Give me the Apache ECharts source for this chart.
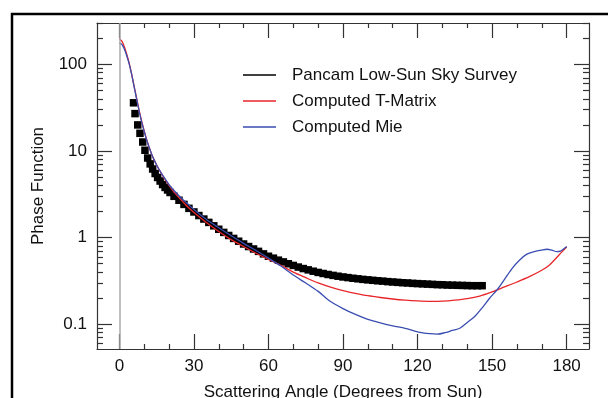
<!DOCTYPE html>
<html><head><meta charset="utf-8">
<script src="https://cdn.jsdelivr.net/npm/echarts@6/dist/echarts.min.js"></script>
<style>html,body{margin:0;padding:0;background:#fff}#c{width:608px;height:398px}</style>
</head><body><div id="c"></div>
<script>
// ---- data ----
const seriesNames = ['Pancam Low-Sun Sky Survey', 'Computed T-Matrix', 'Computed Mie'];

const pancamX = [5.7,6.3,7.4,8.3,9.4,10.3,11.4,12.4,13.4,14.4,15.4,16.4,17.4,18.4,19.4,20.4,22,24,26,28,30,32,34,36,38,40,42,44,46,48,50,52,54,56,58,60,62,64,66,68,70,72,74,76,78,80,82,84,86,88,90,92,94,96,98,100,102,104,106,108,110,112,114,116,118,120,122,124,126,128,130,132,134,136,138,140,142,144,146];
const pancamY = [36,27,20,16,12.7,10.2,8.3,7.1,6.2,5.5,4.95,4.5,4.1,3.8,3.55,3.32,3.0,2.7,2.42,2.18,1.98,1.8,1.64,1.5,1.37,1.25,1.15,1.06,0.98,0.91,0.845,0.79,0.74,0.695,0.65,0.61,0.58,0.55,0.525,0.5,0.478,0.458,0.44,0.425,0.41,0.397,0.386,0.376,0.367,0.359,0.352,0.346,0.34,0.335,0.33,0.326,0.322,0.318,0.315,0.311,0.308,0.305,0.302,0.3,0.297,0.295,0.293,0.291,0.289,0.287,0.286,0.284,0.283,0.282,0.281,0.28,0.279,0.279,0.279];

const tmatX = [0,1,2,3,4,5,6,7,8,9,10,11,12,13,14,15,16,18,20,22,25,28,31,35,40,45,50,55,60,65,70,75,80,85,90,95,100,105,110,115,120,125,130,135,140,145,150,155,160,165,170,173,176,178,180];
const tmatY = [198,185,160,130,102,76,55,40,29,22,17,13.5,11,9.2,7.9,6.9,6.1,4.9,4.0,3.35,2.7,2.2,1.85,1.5,1.18,0.95,0.79,0.66,0.56,0.48,0.4,0.345,0.3,0.268,0.245,0.228,0.214,0.204,0.196,0.19,0.186,0.184,0.185,0.19,0.198,0.212,0.237,0.27,0.308,0.355,0.42,0.48,0.59,0.68,0.78];

const mieX = [0,1,2,3,4,5,6,7,8,9,10,11,12,13,14,15,16,18,20,22,25,28,31,35,40,45,50,55,60,65,70,75,80,85,90,95,100,105,110,115,120,125,128,131,134,137,140,143,146,149,152,155,158,161,164,167,170,172,174,176,177.5,179,180];
const mieY = [176,170,150,125,100,75,54,39,28.5,21.5,16.8,13.3,11,9.2,7.9,6.9,6.1,4.95,4.1,3.5,2.85,2.38,2.0,1.62,1.3,1.05,0.86,0.71,0.58,0.47,0.37,0.3,0.24,0.183,0.152,0.13,0.114,0.104,0.096,0.09,0.082,0.078,0.077,0.08,0.085,0.09,0.105,0.123,0.155,0.2,0.25,0.33,0.44,0.55,0.645,0.69,0.72,0.735,0.72,0.69,0.7,0.75,0.79];

const xMajorTicks = [0,30,60,90,120,150,180];
const xMinorTicks = [10,20,40,50,70,80,100,110,130,140,160,170];
const yMajorTicks = [0.1,1,10,100];
const yMinorTicks = [0.06,0.07,0.08,0.09,0.2,0.3,0.4,0.5,0.6,0.7,0.8,0.9,2,3,4,5,6,7,8,9,20,30,40,50,60,70,80,90,200,300];

// ---- chart ----
const FONT = '"Liberation Sans", Helvetica, Arial, sans-serif';
const AX = '#333';
const pairs = (xs, ys) => xs.map((x, i) => [x, ys[i]]);

function xAx(pos, ticks, len, withLine, withLabel) {
  return {
    type: 'value', min: -9, max: 189, position: pos, gridIndex: 0, offset: 0,
    axisLine: { show: withLine, onZero: false, lineStyle: { color: AX, width: 1.2 } },
    axisTick: { show: true, inside: true, length: len, customValues: ticks, lineStyle: { color: AX, width: 1.2 } },
    axisLabel: withLabel ? { show: true, customValues: ticks, fontSize: 17, color: '#111', fontFamily: FONT, margin: 9 } : { show: false },
    splitLine: { show: false },
    name: withLabel ? 'Scattering Angle (Degrees from Sun)' : '',
    nameLocation: 'middle', nameGap: 35,
    nameTextStyle: { fontSize: 17, color: '#111', fontFamily: FONT }
  };
}
function yAx(pos, ticks, len, withLine, withLabel) {
  return {
    type: 'log', logBase: 10, min: 0.0519, max: 300, position: pos, gridIndex: 0, offset: 0,
    axisLine: { show: withLine, onZero: false, lineStyle: { color: AX, width: 1.2 } },
    axisTick: { show: true, inside: true, length: len, customValues: ticks, lineStyle: { color: AX, width: 1.2 } },
    axisLabel: withLabel ? { show: true, customValues: ticks, fontSize: 17, color: '#111', fontFamily: FONT, margin: 10 } : { show: false },
    splitLine: { show: false },
    name: withLabel ? 'Phase Function' : '',
    nameLocation: 'middle', nameGap: 50, nameRotate: 90,
    nameTextStyle: { fontSize: 17, color: '#111', fontFamily: FONT }
  };
}

const chart = echarts.init(document.getElementById('c'), null, { renderer: 'canvas' });
chart.setOption({
  animation: false,
  backgroundColor: '#fff',
  grid: { left: 97, top: 23, width: 492, height: 326, containLabel: false, outerBoundsMode: 'none' },
  graphic: [{ type: 'rect', silent: true, shape: { x: 12, y: 14, width: 650, height: 450 }, style: { fill: 'none', stroke: '#000', lineWidth: 2.5 } }],
  legend: {
    orient: 'vertical', left: 238, top: 60, itemWidth: 33, itemHeight: 1.6, itemGap: 6,
    icon: 'rect',
    textStyle: { fontSize: 17, color: '#111', fontFamily: FONT, lineHeight: 20, padding: [0, 0, 0, 11] },
    data: seriesNames
  },
  xAxis: [
    xAx('bottom', xMajorTicks, 15, true, true),
    xAx('bottom', xMinorTicks, 5, false, false),
    xAx('top', xMajorTicks, 15, true, false),
    xAx('top', xMinorTicks, 5, false, false)
  ],
  yAxis: [
    yAx('left', yMajorTicks, 15, true, true),
    yAx('left', yMinorTicks, 6, false, false),
    yAx('right', yMajorTicks, 15, true, false),
    yAx('right', yMinorTicks, 6, false, false)
  ],
  series: [
    {
      name: 'zero', type: 'line', data: [], z: 1, silent: true,
      markLine: { silent: true, symbol: 'none', label: { show: false },
        lineStyle: { color: '#aaa', width: 1.5, type: 'solid' }, data: [{ xAxis: 0 }] }
    },
    {
      name: seriesNames[0], type: 'scatter', symbol: 'rect', symbolSize: 7.5, z: 2,
      itemStyle: { color: '#000', opacity: 1 }, data: pairs(pancamX, pancamY)
    },
    {
      name: seriesNames[1], type: 'line', showSymbol: false, smooth: 0.3, z: 3,
      itemStyle: { color: '#e8262a' }, lineStyle: { color: '#e8262a', width: 1.3 },
      data: pairs(tmatX, tmatY)
    },
    {
      name: seriesNames[2], type: 'line', showSymbol: false, smooth: 0.3, z: 4,
      itemStyle: { color: '#3a4db0' }, lineStyle: { color: '#3a4db0', width: 1.3 },
      data: pairs(mieX, mieY)
    }
  ]
});
</script></body></html>
